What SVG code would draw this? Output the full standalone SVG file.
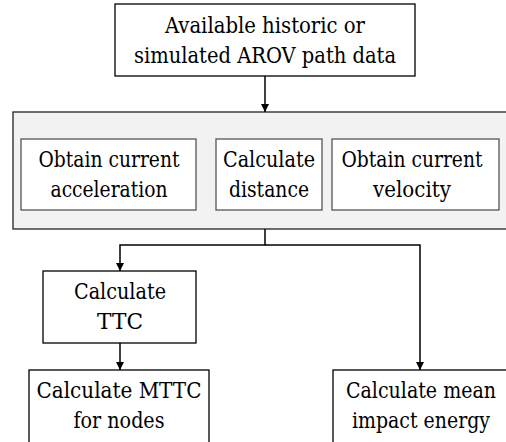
<svg xmlns="http://www.w3.org/2000/svg" width="506" height="442" viewBox="0 0 506 442">
<style>
text{font-family:'DejaVu Serif Condensed','DejaVu Serif',serif;font-size:22px;fill:#000;text-anchor:middle}
.box{fill:#fff;stroke:#000;stroke-width:1.3}
.inner{fill:#fff;stroke:#555;stroke-width:1.3}
.grp{fill:#f2f2f2;stroke:#222;stroke-width:1.3}
.c{fill:none;stroke:#000;stroke-width:1.5}
</style>
<defs>
<marker id="ah" viewBox="0 0 10 10" refX="10" refY="5" markerWidth="8" markerHeight="8" markerUnits="userSpaceOnUse" orient="auto">
<path d="M0,0 L10,5 L0,10 Z" fill="#000"/>
</marker>
</defs>
<rect width="506" height="442" fill="#fff"/>
<g id="data">
<rect class="box" x="115" y="4" width="300" height="72"/>
<text x="265" y="33" textLength="200" lengthAdjust="spacingAndGlyphs">Available historic or</text>
<text x="265" y="63" textLength="262" lengthAdjust="spacingAndGlyphs">simulated AROV path data</text>
</g>
<g id="group">
<rect class="grp" x="13" y="112" width="500" height="117"/>
</g>
<g id="accel">
<rect class="inner" x="21" y="139" width="175" height="71"/>
<text x="109" y="167" textLength="141" lengthAdjust="spacingAndGlyphs">Obtain current</text>
<text x="109" y="197" textLength="117" lengthAdjust="spacingAndGlyphs">acceleration</text>
</g>
<g id="distance">
<rect class="inner" x="216" y="139" width="106" height="71"/>
<text x="269" y="167" textLength="92" lengthAdjust="spacingAndGlyphs">Calculate</text>
<text x="269" y="197" textLength="80" lengthAdjust="spacingAndGlyphs">distance</text>
</g>
<g id="velocity">
<rect class="inner" x="332" y="139" width="167" height="71"/>
<text x="412" y="167" textLength="141" lengthAdjust="spacingAndGlyphs">Obtain current</text>
<text x="412" y="197" textLength="78" lengthAdjust="spacingAndGlyphs">velocity</text>
</g>
<g id="ttc">
<rect class="box" x="43" y="271" width="153" height="72"/>
<text x="120" y="299" textLength="92" lengthAdjust="spacingAndGlyphs">Calculate</text>
<text x="120" y="329" textLength="46" lengthAdjust="spacingAndGlyphs">TTC</text>
</g>
<g id="mttc">
<rect class="box" x="29" y="370" width="180" height="80"/>
<text x="119" y="398" textLength="165" lengthAdjust="spacingAndGlyphs">Calculate MTTC</text>
<text x="119" y="428" textLength="91" lengthAdjust="spacingAndGlyphs">for nodes</text>
</g>
<g id="energy">
<rect class="box" x="333" y="370" width="180" height="80"/>
<text x="421" y="398" textLength="150" lengthAdjust="spacingAndGlyphs">Calculate mean</text>
<text x="421" y="428" textLength="138" lengthAdjust="spacingAndGlyphs">impact energy</text>
</g>
<g id="connectors">
<line class="c" x1="265" y1="76" x2="265" y2="112" marker-end="url(#ah)"/>
<polyline class="c" points="265,229 265,245 120,245 120,271" marker-end="url(#ah)"/>
<polyline class="c" points="265,245 420,245 420,370" marker-end="url(#ah)"/>
<line class="c" x1="120" y1="343" x2="120" y2="370" marker-end="url(#ah)"/>
</g>
</svg>
